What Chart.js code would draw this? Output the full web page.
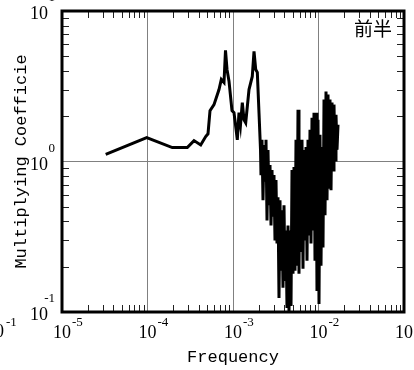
<!DOCTYPE html>
<html>
<head>
<meta charset="utf-8">
<script src="https://cdn.jsdelivr.net/npm/chart.js@4.4.1/dist/chart.umd.min.js"></script>
<style>
  html, body { margin: 0; padding: 0; background: #fff; }
</style>
</head>
<body>
<canvas id="coefChart" width="414" height="370"></canvas>
<script>
// 频率与放大系数
const freq = [
  3.245e-5, 9.79e-5, 1.950e-4, 2.921e-4, 3.499e-4, 4.19e-4, 4.794e-4, 5.10e-4,
  5.383e-4, 5.995e-4, 6.86e-4, 7.298e-4, 7.847e-4, 8.17e-4, 8.51e-4, 8.98e-4,
  9.73e-4, 1.027e-3, 1.07e-3, 1.123e-3, 1.175e-3, 1.224e-3, 1.285e-3, 1.345e-3,
  1.408e-3, 1.539e-3, 1.681e-3, 1.761e-3, 1.843e-3, 1.925e-3, 2.014e-3, 2.098e-3,
  2.125e-3, 2.183e-3, 2.243e-3, 2.305e-3, 2.368e-3, 2.432e-3, 2.499e-3, 2.567e-3,
  2.637e-3, 2.709e-3, 2.783e-3, 2.859e-3, 2.937e-3, 3.016e-3, 3.099e-3, 3.183e-3,
  3.270e-3, 3.359e-3, 3.451e-3, 3.545e-3, 3.642e-3, 3.741e-3, 3.843e-3, 3.949e-3,
  4.056e-3, 4.167e-3, 4.281e-3, 4.398e-3, 4.519e-3, 4.642e-3, 4.769e-3, 4.899e-3,
  5.033e-3, 5.170e-3, 5.311e-3, 5.456e-3, 5.605e-3, 5.758e-3, 5.914e-3, 6.076e-3,
  6.242e-3, 6.412e-3, 6.587e-3, 6.767e-3, 6.952e-3, 7.142e-3, 7.337e-3, 7.537e-3,
  7.742e-3, 7.954e-3, 8.171e-3, 8.394e-3, 8.623e-3, 8.858e-3, 9.100e-3, 9.349e-3,
  9.604e-3, 9.866e-3, 1.0135e-2, 1.041e-2, 1.070e-2, 1.099e-2, 1.129e-2, 1.160e-2,
  1.192e-2, 1.224e-2, 1.258e-2, 1.292e-2, 1.327e-2, 1.363e-2, 1.401e-2, 1.439e-2,
  1.478e-2, 1.518e-2, 1.560e-2, 1.602e-2, 1.646e-2, 1.691e-2
];
const coef = [
  1.117, 1.443, 1.237, 1.237, 1.377, 1.289, 1.465, 1.528,
  2.177, 2.388, 3.008, 3.51, 3.35, 5.48, 4.09, 3.42,
  2.177, 2.11, 1.754, 1.393, 2.11, 1.754, 2.462, 1.895,
  1.809, 3.008, 3.675, 5.40, 4.09, 3.91, 2.11, 1.194,
  0.812, 1.393, 0.553, 1.289, 0.752, 1.393, 0.406, 1.194,
  0.512, 0.948, 0.376, 0.877, 0.439, 0.812, 0.2985, 0.752,
  0.285, 0.579, 0.124, 0.553, 0.188, 0.474, 0.1447, 0.512,
  0.161, 0.348, 0.1063, 0.376, 0.100, 0.348, 0.1097, 0.877,
  0.1795, 0.919, 0.188, 1.393, 0.203, 2.211, 0.1795, 1.289,
  0.256, 1.393, 0.194, 1.194, 0.2985, 1.250, 0.219, 1.393,
  0.322, 1.624, 0.285, 1.954, 0.348, 2.110, 0.219, 2.110,
  0.138, 1.895, 0.113, 1.504, 0.203, 1.250, 0.268, 2.579,
  0.439, 2.917, 0.553, 2.785, 0.675, 2.579, 0.645, 2.462,
  0.877, 2.387, 1.023, 2.046, 1.194, 1.754
];

// 坐标轴刻度（十进位）
const xDecades = [1e-5, 1e-4, 1e-3, 1e-2, 1e-1];
const xExponents = ['-5', '-4', '-3', '-2', '-1'];
const yDecades = [1e-1, 1e0, 1e1];
const yExponents = ['-1', '0', '1'];

const xTitle = 'Frequency';
const yTitle = 'Multiplying Coefficie';
const cornerLabel = '前半';

/**
 * 边框、内侧小刻度、10^n 标签
 */
const axisDecor = {
  id: 'axisDecor',
  afterDraw(chart) {
    const { ctx, chartArea: a, scales: { x, y } } = chart;
    ctx.save();

    // 内侧小刻度
    ctx.strokeStyle = '#222';
    ctx.lineWidth = 1;
    ctx.beginPath();
    xDecades.slice(0, -1).forEach(d => {
      for (let k = 2; k < 10; k++) {
        const px = Math.round(x.getPixelForValue(k * d)) + 0.5;
        ctx.moveTo(px, a.bottom); ctx.lineTo(px, a.bottom - 7);
        ctx.moveTo(px, a.top); ctx.lineTo(px, a.top + 7);
      }
    });
    yDecades.slice(0, -1).forEach(d => {
      for (let k = 2; k < 10; k++) {
        const py = Math.round(y.getPixelForValue(k * d)) + 0.5;
        ctx.moveTo(a.left, py); ctx.lineTo(a.left + 7, py);
        ctx.moveTo(a.right, py); ctx.lineTo(a.right - 7, py);
      }
    });
    ctx.stroke();

    // 粗边框
    ctx.strokeStyle = '#000';
    ctx.lineWidth = 3;
    ctx.strokeRect(a.left, a.top, a.right - a.left, a.bottom - a.top);

    ctx.fillStyle = '#000';
    ctx.textBaseline = 'alphabetic';
    const big = '18px "Liberation Serif", serif';
    const small = '13px "Liberation Serif", serif';

    // x 轴标签
    xDecades.forEach((v, i) => {
      const px = x.getPixelForValue(v);
      ctx.font = big;
      ctx.textAlign = 'center';
      ctx.fillText('10', px, 338);
      ctx.font = small;
      ctx.textAlign = 'left';
      ctx.fillText(xExponents[i], px + 10, 326);
    });
    // 左下角被截断的残留标签
    ctx.font = big;
    ctx.textAlign = 'right';
    ctx.fillText('10', 4, 337);
    ctx.font = small;
    ctx.textAlign = 'left';
    ctx.fillText(xExponents[xExponents.length - 1], 6, 326);

    // y 轴标签
    yDecades.forEach((v, i) => {
      const py = y.getPixelForValue(v);
      ctx.font = big;
      ctx.textAlign = 'right';
      ctx.fillText('10', 48, py + 8);
      ctx.font = small;
      ctx.textAlign = 'right';
      ctx.fillText(yExponents[i], 55, py - 10);
    });

    // 轴标题
    ctx.font = '17px "Liberation Mono", monospace';
    ctx.textAlign = 'center';
    ctx.fillText(xTitle, (a.left + a.right) / 2, 362);
    ctx.save();
    ctx.translate(26, (a.top + a.bottom) / 2);
    ctx.rotate(-Math.PI / 2);
    ctx.fillText(yTitle, 0, 0);
    ctx.restore();

    // 右上角文字
    ctx.font = '19px "Noto Sans CJK JP", sans-serif';
    ctx.textAlign = 'right';
    ctx.fillText(cornerLabel, a.right - 12, 36);

    ctx.restore();
  }
};

const decadeTicks = list => scale => {
  scale.ticks = list.map(v => ({ value: v }));
};

new Chart(document.getElementById('coefChart'), {
  type: 'line',
  data: {
    datasets: [{
      label: 'Multiplying Coefficient',
      data: freq.map((f, i) => ({ x: f, y: coef[i] })),
      borderColor: '#000',
      borderWidth: 3,
      pointRadius: 0,
      tension: 0,
      fill: false
    }]
  },
  options: {
    responsive: false,
    animation: false,
    layout: { padding: { left: 62, right: 10, top: 11, bottom: 58 } },
    plugins: {
      legend: { display: false },
      tooltip: { enabled: false }
    },
    scales: {
      x: {
        type: 'logarithmic',
        min: 1e-5,
        max: 1e-1,
        afterBuildTicks: decadeTicks(xDecades),
        ticks: { display: false },
        border: { display: false },
        grid: { color: '#808080', lineWidth: 1, drawTicks: false }
      },
      y: {
        type: 'logarithmic',
        min: 0.1,
        max: 10,
        afterBuildTicks: decadeTicks(yDecades),
        ticks: { display: false },
        border: { display: false },
        grid: { color: '#808080', lineWidth: 1, drawTicks: false }
      }
    }
  },
  plugins: [axisDecor]
});
</script>
</body>
</html>
